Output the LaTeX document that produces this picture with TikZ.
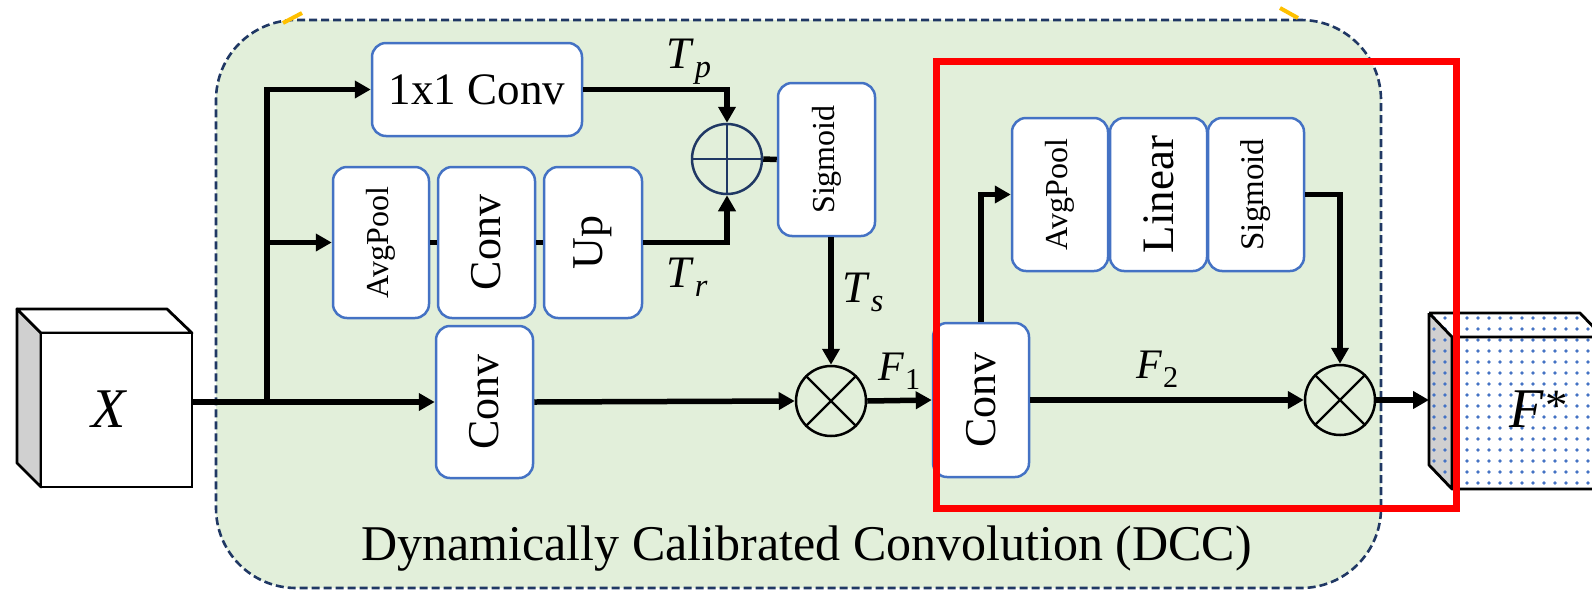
\documentclass[tikz,border=0pt]{standalone}
\usepackage{fontspec}
\setmainfont{Liberation Serif}
\usepackage{graphicx}
\usetikzlibrary{arrows.meta}
\definecolor{boxblue}{HTML}{4472C4}
\definecolor{dccgreen}{HTML}{E2EFDA}
\definecolor{navy}{HTML}{203864}
\definecolor{cubegray}{HTML}{D0D0D0}
\definecolor{orangemark}{HTML}{FFC000}
\newcommand{\fsz}[1]{\fontsize{#1}{#1}\selectfont}
\newcommand{\vtext}[2]{\rotatebox{90}{\fsz{#1}#2}}
\newcommand{\isub}[2]{\textit{#1}\kern0.02em\raisebox{-0.22em}{\scalebox{0.72}{#2}}}
\begin{document}
\begin{tikzpicture}[x=1pt,y=-1pt,
 blk/.style={draw=boxblue,line width=2.5pt,fill=white,rounded corners=14pt,inner sep=0pt},
 conn/.style={line width=5.5pt,line join=miter},
 arr/.style={conn,-{Triangle[length=16pt,width=17pt]}},
 lbl/.style={inner sep=0pt,anchor=base west},
 ring/.style={circle,draw,line width=2.5pt,minimum size=70pt,inner sep=0pt},
 cube/.style={line width=2.8pt,line join=round}]
\useasboundingbox (0,0) rectangle (1592,590);
\clip (0,0) rectangle (1592,590);
% container
\node[draw=navy,fill=dccgreen,line width=2.6pt,dash pattern=on 8pt off 4pt,rounded corners=80pt,minimum width=1165pt,minimum height=568pt,inner sep=0pt] (dcc) at (798.5,304) {};
\node[anchor=base] (dcctext) at (806.5,560) {\fsz{50}Dynamically Calibrated Convolution (DCC)};
\draw[orangemark,line width=4pt] (283,23) -- (302,13);
\draw[orangemark,line width=4pt] (1280,8) -- (1298,18);
% blocks
\node[blk,minimum width=210pt,minimum height=93pt] (c11) at (477,89.5) {\fsz{45}1x1 Conv};
\node[blk,minimum width=96pt,minimum height=151pt] (avg1) at (381,242.5) {\vtext{32}{AvgPool}};
\node[blk,minimum width=97pt,minimum height=151pt] (convs) at (486.5,242.5) {\vtext{44}{Conv}};
\node[blk,minimum width=98pt,minimum height=151pt] (up) at (593,242.5) {\vtext{44}{Up}};
\node[blk,minimum width=97pt,minimum height=153pt] (sig1) at (826.5,159.5) {\vtext{32}{Sigmoid}};
\node[blk,minimum width=97pt,minimum height=152pt] (convm) at (484.5,402) {\vtext{44}{Conv}};
\node[blk,minimum width=96pt,minimum height=154pt] (convr) at (981,400) {\vtext{44}{Conv}};
\node[blk,minimum width=96pt,minimum height=153pt] (avg2) at (1060,194.5) {\vtext{32}{AvgPool}};
\node[blk,minimum width=97pt,minimum height=153pt] (lin) at (1158.5,194.5) {\vtext{45}{Linear}};
\node[blk,minimum width=96pt,minimum height=153pt] (sig2) at (1256,194.5) {\vtext{33}{Sigmoid}};
% operators
\node[ring,draw=navy] (plus) at (727,159) {};
\draw[navy,line width=2pt] (plus.north) -- (plus.south) (plus.west) -- (plus.east);
\node[ring] (t1) at (831,401) {};
\draw[line width=2.4pt] (t1.north west) -- (t1.south east) (t1.north east) -- (t1.south west);
\node[ring] (t2) at (1340,400) {};
\draw[line width=2.4pt] (t2.north west) -- (t2.south east) (t2.north east) -- (t2.south west);
% X cube
\filldraw[cube,fill=cubegray] (17,309) -- (41,333) -- (41,487) -- (17,463) -- cycle;
\filldraw[cube,fill=white] (17,309) -- (167,309) -- (192,333) -- (41,333) -- cycle;
\node[draw,fill=white,line width=2.8pt,minimum width=151pt,minimum height=154pt,inner sep=0pt] (xf) at (116.5,410) {};
\node[lbl] (xl) at (91,427) {\fsz{56}\textit{X}};
% F* cube
\fill[cubegray] (1429,313) -- (1452,337) -- (1452,489) -- (1429,465) -- cycle;
\fill[white] (1429,313) -- (1580,313) -- (1603,337) -- (1452,337) -- cycle;
\node[fill=white,minimum width=151pt,minimum height=152pt,inner sep=0pt] (ff) at (1527.5,413) {};
\begin{scope}
\clip (1429,313) -- (1580,313) -- (1603,337) -- (1603,489) -- (1452,489) -- (1429,465) -- cycle;
\foreach \i in {0,...,15} \foreach \j in {0,...,16}
  \fill[boxblue] ({1434+11*\i},{318+11*\j}) circle (1.8pt);
\end{scope}
\draw[cube] (1429,313) -- (1580,313) -- (1603,337) (1429,313) -- (1452,337) -- (1603,337)
  (1429,313) -- (1429,465) -- (1452,489) -- (1603,489) (1452,337) -- (1452,489);
\node[lbl] (fl) at (1509,427) {\fsz{56}\textit{F}\kern0.03em\raisebox{0.12em}{\scalebox{0.8}{*}}};
% connectors
\coordinate (sp) at (267,402);
\draw[arr] (xf.east |- convm.west) -- (convm.west);
\draw[arr] (sp) |- (c11.west);
\draw[arr] (sp |- avg1.west) -- (avg1.west);
\draw[conn] (avg1.east) -- (convs.west) (convs.east) -- (up.west);
\draw[arr] (c11.east) -| (plus.north);
\draw[arr] (up.east) -| (plus.south);
\draw[conn] (plus.east) -- (sig1.west);
\draw[arr] (t1.north |- sig1.south) -- (t1.north);
\draw[arr] (convm.east) -- (t1.west);
\draw[arr] (t1.east) -- (convr.west);
\draw[arr] (convr.north) |- (avg2.west);
\draw[arr] (sig2.east) -| (t2.north);
\draw[arr] (convr.east) -- (t2.west);
\coordinate (fin) at (1429,400);
\draw[arr] (t2.east) -- (fin);
% labels
\node[lbl] (tp) at (666,68) {\fsz{45}\isub{T}{\textit{p}}};
\node[lbl] (tr) at (666,287) {\fsz{45}\isub{T}{\textit{r}}};
\node[lbl] (ts) at (842,302) {\fsz{45}\isub{T}{\textit{s}}};
\node[lbl] (f1) at (878,380) {\fsz{42}\isub{F}{1}};
\node[lbl] (f2) at (1136,378) {\fsz{42}\isub{F}{2}};
% highlight
\node[draw=red,line width=7pt,minimum width=520pt,minimum height=447pt,inner sep=0pt] (hl) at (1196,284.5) {};
\end{tikzpicture}
\end{document}
